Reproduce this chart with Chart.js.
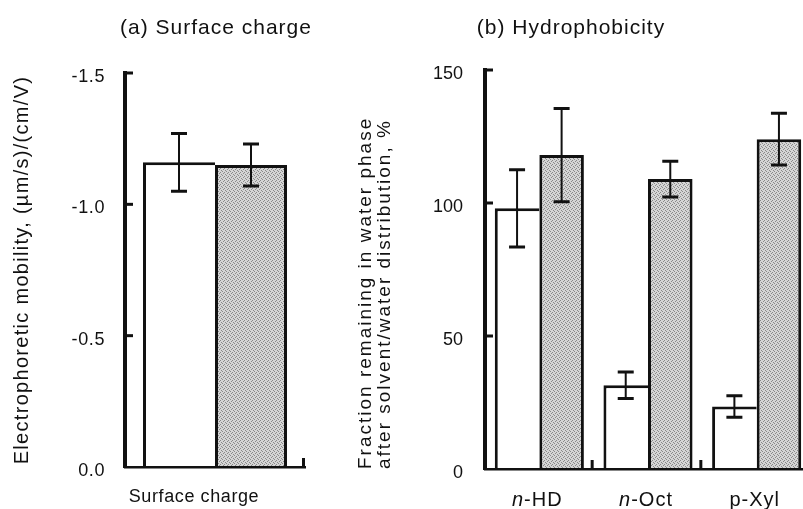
<!DOCTYPE html>
<html>
<head>
<meta charset="utf-8">
<script src="https://cdn.jsdelivr.net/npm/chart.js@4.4.0/dist/chart.umd.min.js"></script>
<style>
  html, body { margin: 0; padding: 0; background: #fff; overflow: hidden; }
  body { width: 803px; height: 509px; position: relative; }
  canvas { position: absolute; top: 0; }
  #chargeChart { left: 0; }
  #hydroChart { left: 340px; }
</style>
</head>
<body>
<canvas id="chargeChart" width="340" height="509"></canvas>
<canvas id="hydroChart" width="471" height="509"></canvas>
<script>
// (a) surface charge
const chargeLabels = ['Surface charge'];
const chargeWhite = [-1.16];
const chargeWhiteErr = [0.11];
const chargeGray = [-1.15];
const chargeGrayErr = [0.08];
const chargeTicks = [0, -0.5, -1.0, -1.5];

// (b) hydrophobicity
const solvents = ['n-HD', 'n-Oct', 'p-Xyl'];
const italicPrefix = [true, true, false];
const fractionWhite = [98, 31.5, 23.5];
const fractionWhiteErr = [14.5, 5, 4];
const fractionGray = [118, 109, 124];
const fractionGrayErr = [17.5, 6.7, 9.7];
const fractionTicks = [0, 50, 100, 150];

const FONT = '"Liberation Sans", Arial, sans-serif';
const INK = '#111';
Chart.defaults.font.family = FONT;
Chart.defaults.color = INK;

// dotted grey fill like the scanned screen tone
function stipple(ctx) {
  const c = document.createElement('canvas');
  c.width = 4; c.height = 4;
  const g = c.getContext('2d');
  g.fillStyle = '#d6d6d6';
  g.fillRect(0, 0, 4, 4);
  g.fillStyle = '#8a8a8a';
  [[0, 0], [3, 1], [1, 2], [2, 3]].forEach(p => g.fillRect(p[0], p[1], 1, 1));
  return ctx.createPattern(c, 'repeat');
}

// the printed figure uses loosely tracked type for titles
const tracking = {
  id: 'tracking',
  beforeDraw(chart, args, opts) { chart.ctx.letterSpacing = opts.titles; },
  afterDatasetsDraw(chart, args, opts) { chart.ctx.letterSpacing = opts.labels; },
  afterDraw(chart) { chart.ctx.letterSpacing = '0px'; }
};

const errorBars = {
  id: 'errorBars',
  afterDatasetsDraw(chart) {
    const ctx = chart.ctx;
    const y = chart.scales.y;
    ctx.save();
    ctx.strokeStyle = INK;
    chart.data.datasets.forEach((ds, di) => {
      chart.getDatasetMeta(di).data.forEach((bar, i) => {
        const v = ds.data[i], e = ds.errors[i];
        const y1 = y.getPixelForValue(v - e), y2 = y.getPixelForValue(v + e);
        ctx.lineWidth = 2;
        ctx.beginPath(); ctx.moveTo(bar.x, y1); ctx.lineTo(bar.x, y2); ctx.stroke();
        ctx.lineWidth = 3;
        ctx.beginPath();
        ctx.moveTo(bar.x - 8, y1); ctx.lineTo(bar.x + 8, y1);
        ctx.moveTo(bar.x - 8, y2); ctx.lineTo(bar.x + 8, y2);
        ctx.stroke();
      });
    });
    ctx.restore();
  }
};

// tick marks pointing into the plot
const innerTicks = {
  id: 'innerTicks',
  afterDraw(chart) {
    const {ctx, chartArea: a, scales: {x, y}} = chart;
    ctx.save();
    ctx.strokeStyle = INK;
    ctx.lineWidth = 3;
    y.ticks.forEach(t => {
      const py = y.getPixelForValue(t.value);
      if (Math.abs(py - a.bottom) < 2) return;
      ctx.beginPath(); ctx.moveTo(a.left, py); ctx.lineTo(a.left + 8, py); ctx.stroke();
    });
    for (let i = 0; i < x.ticks.length; i++) {
      const px = x.getPixelForValue(i + 0.5) - 1.5;
      ctx.beginPath(); ctx.moveTo(px, a.bottom); ctx.lineTo(px, a.bottom - 9); ctx.stroke();
    }
    ctx.restore();
  }
};

const panelTitle = {
  id: 'panelTitle',
  afterDraw(chart, args, opts) {
    const ctx = chart.ctx;
    ctx.save();
    ctx.letterSpacing = opts.spacing;
    ctx.font = '21px ' + FONT;
    ctx.fillStyle = INK;
    ctx.textAlign = 'center';
    ctx.textBaseline = 'middle';
    ctx.fillText(opts.text, opts.x, opts.y);
    ctx.restore();
  }
};

// category labels with an italic "n" prefix
const solventLabels = {
  id: 'solventLabels',
  afterDraw(chart) {
    const {ctx, scales: {x}} = chart;
    ctx.save();
    ctx.letterSpacing = '1px';
    ctx.fillStyle = INK;
    ctx.textBaseline = 'alphabetic';
    ctx.textAlign = 'left';
    solvents.forEach((lab, i) => {
      const head = italicPrefix[i] ? lab.slice(0, lab.indexOf('-')) : '';
      const tail = lab.slice(head.length);
      ctx.font = 'italic 20px ' + FONT;
      const w1 = ctx.measureText(head).width;
      ctx.font = '20px ' + FONT;
      const w2 = ctx.measureText(tail).width;
      const px = x.getPixelForValue(i) - 2 - (w1 + w2) / 2;
      ctx.font = 'italic 20px ' + FONT;
      ctx.fillText(head, px, 506);
      ctx.font = '20px ' + FONT;
      ctx.fillText(tail, px + w1, 506);
    });
    ctx.restore();
  }
};

const whiteBar = {backgroundColor: '#fff', borderColor: INK, borderWidth: {top: 3, left: 3, right: 0, bottom: 0}};
const grayBar = {borderColor: INK, borderWidth: {top: 3, left: 3, right: 3, bottom: 0}};

const ctxA = document.getElementById('chargeChart').getContext('2d');
new Chart(ctxA, {
  type: 'bar',
  data: {
    labels: chargeLabels,
    datasets: [
      Object.assign({data: chargeWhite, errors: chargeWhiteErr}, whiteBar),
      Object.assign({data: chargeGray, errors: chargeGrayErr, backgroundColor: stipple(ctxA)}, grayBar)
    ]
  },
  options: {
    responsive: false,
    animation: false,
    devicePixelRatio: 1,
    layout: {padding: {top: 73, right: 35, left: 0, bottom: 0}},
    datasets: {bar: {categoryPercentage: 0.8, barPercentage: 1.0}},
    scales: {
      x: {
        grid: {display: false, drawTicks: false},
        border: {color: INK, width: 2.5, z: 1},
        ticks: {padding: 19, labelOffset: -21, font: {size: 18}, z: 1},
        afterFit: s => { s.height = 42; }
      },
      y: {
        min: -1.5, max: 0, reverse: true,
        grid: {display: false, drawTicks: false},
        border: {color: INK, width: 4, z: 1},
        afterBuildTicks: s => { s.ticks = chargeTicks.map(v => ({value: v})); },
        ticks: {padding: 20, labelOffset: 4, font: {size: 18}, z: 1, callback: v => Number(v).toFixed(1)},
        title: {
          display: true,
          text: 'Electrophoretic mobility, (µm/s)/(cm/V)',
          font: {size: 20},
          padding: {top: 10, bottom: 0}
        },
        afterFit: s => { s.width = 125; }
      }
    },
    plugins: {
      legend: {display: false},
      tooltip: {enabled: false},
      tracking: {titles: '1.3px', labels: '0.6px'},
      panelTitle: {text: '(a) Surface charge', x: 216, y: 28, spacing: '1px'}
    }
  },
  plugins: [tracking, errorBars, innerTicks, panelTitle]
});

const ctxB = document.getElementById('hydroChart').getContext('2d');
new Chart(ctxB, {
  type: 'bar',
  data: {
    labels: solvents,
    datasets: [
      Object.assign({data: fractionWhite, errors: fractionWhiteErr}, whiteBar),
      Object.assign({data: fractionGray, errors: fractionGrayErr, backgroundColor: stipple(ctxB)}, grayBar)
    ]
  },
  options: {
    responsive: false,
    animation: false,
    devicePixelRatio: 1,
    layout: {padding: {top: 70, right: 0, left: 0, bottom: 0}},
    datasets: {bar: {categoryPercentage: 0.82, barPercentage: 1.0}},
    scales: {
      x: {
        grid: {display: false, drawTicks: false},
        border: {color: INK, width: 2.5, z: 1},
        ticks: {display: false},
        afterFit: s => { s.height = 40; }
      },
      y: {
        min: 0, max: 150,
        grid: {display: false, drawTicks: false},
        border: {color: INK, width: 4, z: 1},
        afterBuildTicks: s => { s.ticks = fractionTicks.map(v => ({value: v})); },
        ticks: {padding: 22, labelOffset: 4, font: {size: 18}, z: 1},
        title: {
          display: true,
          align: 'start',
          text: ['Fraction remaining in water phase', 'after solvent/water distribution, %'],
          font: {size: 19, lineHeight: 1.0},
          padding: {top: 16, bottom: 0}
        },
        afterFit: s => { s.width = 145; }
      }
    },
    plugins: {
      legend: {display: false},
      tooltip: {enabled: false},
      tracking: {titles: '2px', labels: '0px'},
      panelTitle: {text: '(b) Hydrophobicity', x: 231, y: 28, spacing: '1px'}
    }
  },
  plugins: [tracking, errorBars, innerTicks, panelTitle, solventLabels]
});
</script>
</body>
</html>
